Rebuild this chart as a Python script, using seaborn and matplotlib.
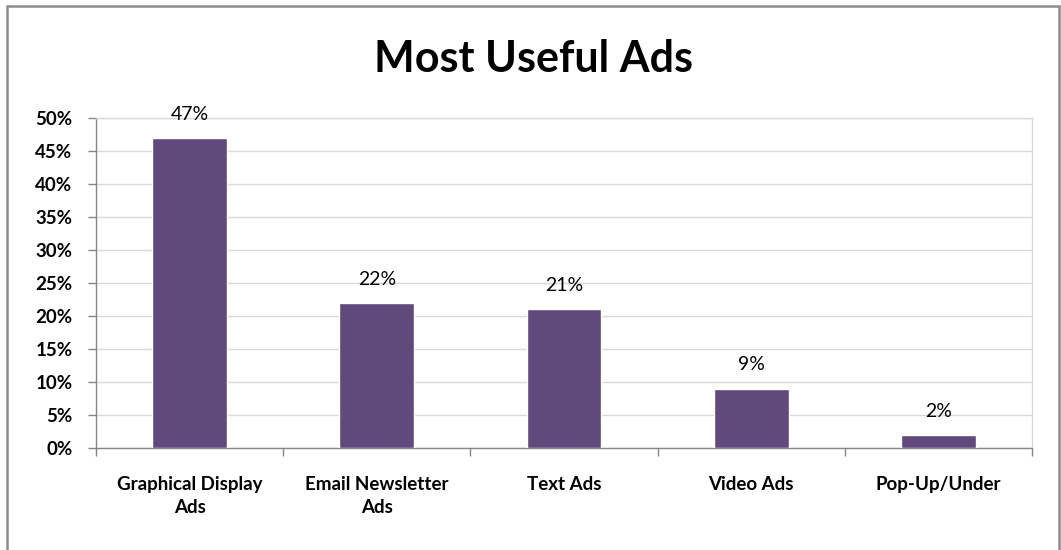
import matplotlib
matplotlib.use("Agg")
import matplotlib.pyplot as plt
import seaborn as sns
import pandas as pd
from matplotlib.patches import Rectangle
from matplotlib.ticker import MultipleLocator, FixedLocator

categories = ["Graphical Display\nAds", "Email Newsletter\nAds", "Text Ads", "Video Ads", "Pop-Up/Under"]
values = [47, 22, 21, 9, 2]
title = "Most Useful Ads"

sns.set_theme(style="white")
plt.rcParams['font.family'] = ['Lato', 'DejaVu Sans']

W, H = 1061, 550
fig = plt.figure(figsize=(W / 100, H / 100), dpi=100)
ax = fig.add_axes([96 / W, (H - 448) / H, 936 / W, 330 / H])

df = pd.DataFrame({"cat": categories, "val": values})
sns.barplot(data=df, x="cat", y="val", color="#604A7B", width=0.4, saturation=1, ax=ax, zorder=3)

ax.set_ylim(0, 50)
ax.set_xlim(-0.5, len(categories) - 0.5)
ax.yaxis.set_major_locator(MultipleLocator(5))
ax.set_yticklabels([f"{int(v)}%" for v in ax.get_yticks()])
ax.grid(axis="y", color="#d9d9d9", linewidth=1, zorder=0)
ax.set_axisbelow(True)
ax.set_xlabel("")
ax.set_ylabel("")

for s in ["left", "bottom"]:
    ax.spines[s].set_color("#868686")
    ax.spines[s].set_linewidth(1)
for s in ["top", "right"]:
    ax.spines[s].set_color("#d9d9d9")
    ax.spines[s].set_linewidth(1)

ax.tick_params(axis="y", which="major", left=True, length=6, width=1, color="#868686",
               labelsize=13.5, pad=11)
ax.tick_params(axis="x", which="major", bottom=False, labelsize=13.5, pad=14)
ax.xaxis.set_minor_locator(FixedLocator([i - 0.5 for i in range(len(categories) + 1)]))
ax.tick_params(axis="x", which="minor", bottom=True, length=6, width=1, color="#868686", direction="out")
for lbl in ax.get_xticklabels():
    lbl.set_fontweight("bold")
    lbl.set_color("black")
    lbl.set_linespacing(1.45)
for lbl in ax.get_yticklabels():
    lbl.set_fontweight("bold")
    lbl.set_color("black")

for i, v in enumerate(values):
    ax.annotate(f"{v}%", (i, v), xytext=(0, 11), textcoords="offset points",
                ha="center", va="bottom", fontsize=14, color="black")

fig.text(533 / W, 1 - 59 / H, title, ha="center", va="center", fontsize=31, fontweight="bold", color="black")

fig.patches.append(Rectangle((7 / W, -0.05), (1059 - 7) / W, 1.05 - 6 / H, transform=fig.transFigure,
                             fill=False, edgecolor="#8c8c8c", linewidth=1.8))

fig.savefig("out.png", dpi=100, facecolor="white")
